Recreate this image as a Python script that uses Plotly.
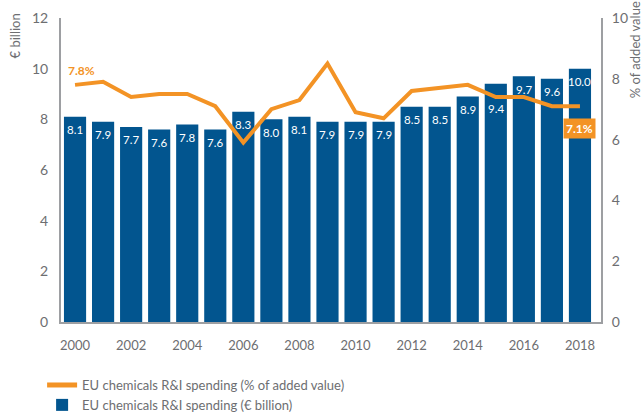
import plotly.graph_objects as go

# EU chemicals R&I spending
years = list(range(2000, 2019))
spending_bn = [8.1, 7.9, 7.7, 7.6, 7.8, 7.6, 8.3, 8.0, 8.1, 7.9,
               7.9, 7.9, 8.5, 8.5, 8.9, 9.4, 9.7, 9.6, 10.0]
share_pct = [7.8, 7.9, 7.4, 7.5, 7.5, 7.1, 5.9, 7.0, 7.3, 8.5,
             6.9, 6.7, 7.6, 7.7, 7.8, 7.4, 7.4, 7.1, 7.1]
left_ticks = [0, 2, 4, 6, 8, 10, 12]
right_ticks = [0, 2, 4, 6, 8, 10]
x_ticks = list(range(2000, 2019, 2))

BLUE = "#02558f"
ORANGE = "#f39325"
GREY = "#6d6e71"
AXIS = "#9d9fa2"
FONT = "Lato"

fig = go.Figure()

fig.add_trace(go.Bar(
    x=years, y=spending_bn, marker=dict(color=BLUE, line=dict(width=0)),
    name="EU chemicals R&amp;I spending (€ billion)",
    hoverinfo="skip",
))

fig.add_trace(go.Scatter(
    x=years, y=share_pct, yaxis="y2", mode="lines",
    line=dict(color=ORANGE, width=4),
    name="EU chemicals R&amp;I spending (% of added value)",
    hoverinfo="skip",
))

# Value labels just inside the top of each bar; one is pushed lower
# so that it sits clear of the percentage line.
label_drop = {2015: -25}
for yr, v in zip(years, spending_bn):
    fig.add_annotation(
        x=yr, y=v, xref="x", yref="y", text=f"{v:.1f}", showarrow=False,
        yanchor="middle", yshift=label_drop.get(yr, -13),
        font=dict(color="white", size=11.5, family=FONT),
    )

# Callouts for first and last percentage values
fig.add_annotation(
    x=years[0], y=share_pct[0], yref="y2", xref="x",
    text=f"<b>{share_pct[0]:.1f}%</b>", showarrow=False,
    xshift=6, yshift=14, font=dict(color=ORANGE, size=12, family=FONT),
)
fig.add_annotation(
    x=years[-1], y=share_pct[-1], yref="y2", xref="x",
    text=f"<b>{share_pct[-1]:.1f}%</b>", showarrow=False,
    yshift=-22, bgcolor=ORANGE, borderpad=2,
    font=dict(color="white", size=12, family=FONT),
)

# Axis titles at the top of each axis
fig.add_annotation(
    x=0, xref="paper", xanchor="center", xshift=-46,
    y=1.02, yref="paper", yanchor="top",
    text="€ billion", textangle=-90, showarrow=False,
    font=dict(color=GREY, size=13, family=FONT),
)
fig.add_annotation(
    x=1, xref="paper", xanchor="center", xshift=34,
    y=1.06, yref="paper", yanchor="top",
    text="% of added value", textangle=-90, showarrow=False,
    font=dict(color=GREY, size=13, family=FONT),
)

fig.update_layout(
    width=642, height=415,
    margin=dict(l=61, r=41, t=18, b=93, autoexpand=False),
    paper_bgcolor="white", plot_bgcolor="white",
    bargap=0.21,
    font=dict(family=FONT, color=GREY, size=13),
    showlegend=True,
    legend=dict(
        orientation="v", x=-0.035, xanchor="left", y=-0.158, yanchor="top",
        traceorder="reversed", font=dict(size=13, color=GREY),
        itemsizing="constant", tracegroupgap=0,
    ),
    xaxis=dict(
        range=[1999.5, 2018.75], tickvals=x_ticks, ticks="",
        showline=True, linecolor=AXIS, linewidth=2, showgrid=False,
        zeroline=False, tickfont=dict(size=13, color=GREY), ticklabelstandoff=10,
    ),
    yaxis=dict(
        range=[0, 12], tickvals=left_ticks, ticks="",
        showline=True, linecolor=AXIS, linewidth=2, showgrid=False,
        zeroline=False, tickfont=dict(size=14, color=GREY), ticklabelstandoff=8,
    ),
    yaxis2=dict(
        range=[0, 10], tickvals=right_ticks, ticks="", overlaying="y",
        side="right", showline=True, linecolor=AXIS, linewidth=2,
        showgrid=False, zeroline=False,
        tickfont=dict(size=14, color=GREY), ticklabelstandoff=6,
    ),
)

fig.write_html("out.html")
